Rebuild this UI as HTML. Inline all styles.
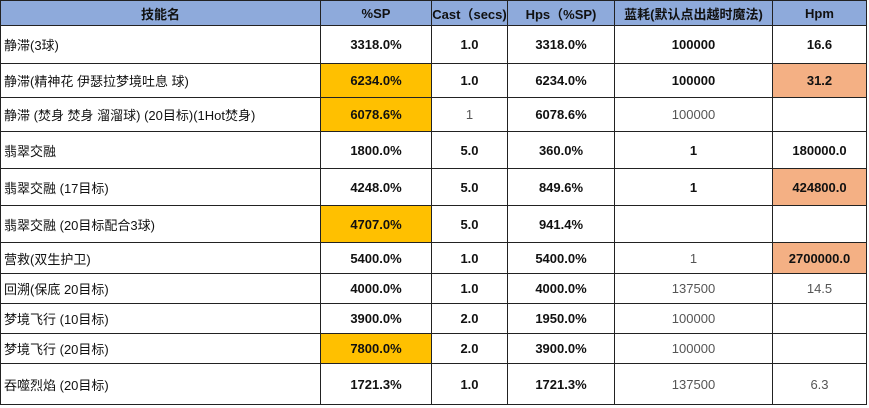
<!DOCTYPE html>
<html><head><meta charset="utf-8"><style>
html,body{margin:0;padding:0;background:#fff;width:869px;height:408px;overflow:hidden}
table{border-collapse:collapse;table-layout:fixed;position:absolute;left:0;top:0;font-family:"Liberation Sans","Noto Sans CJK SC",sans-serif;font-size:13px;color:#111}
td,th{border:1px solid #222;padding:0;text-align:center;font-weight:bold;white-space:nowrap;overflow:hidden}
th{background:#8eaadb;height:24px;font-size:13px}
td.n{text-align:left;font-weight:normal;padding-left:3px}
td.o{background:#ffc000}
td.s{background:#f4b084}
td.l{font-weight:normal;color:#555}
</style></head><body>
<table>
<colgroup><col style="width:320px"><col style="width:111px"><col style="width:76px"><col style="width:107px"><col style="width:158px"><col style="width:94px"></colgroup>
<tr><th>技能名</th><th>%SP</th><th>Cast（secs)</th><th>Hps（%SP)</th><th>蓝耗(默认点出越时魔法)</th><th>Hpm</th></tr>
<tr style="height:38px"><td class="n">静滞(3球)</td><td>3318.0%</td><td>1.0</td><td>3318.0%</td><td>100000</td><td>16.6</td></tr>
<tr style="height:34px"><td class="n">静滞(精神花 伊瑟拉梦境吐息 球)</td><td class="o">6234.0%</td><td>1.0</td><td>6234.0%</td><td>100000</td><td class="s">31.2</td></tr>
<tr style="height:34px"><td class="n">静滞 (焚身 焚身 溜溜球) (20目标)(1Hot焚身)</td><td class="o">6078.6%</td><td class="l">1</td><td>6078.6%</td><td class="l">100000</td><td></td></tr>
<tr style="height:37px"><td class="n">翡翠交融</td><td>1800.0%</td><td>5.0</td><td>360.0%</td><td>1</td><td>180000.0</td></tr>
<tr style="height:37px"><td class="n">翡翠交融 (17目标)</td><td>4248.0%</td><td>5.0</td><td>849.6%</td><td>1</td><td class="s">424800.0</td></tr>
<tr style="height:37px"><td class="n">翡翠交融 (20目标配合3球)</td><td class="o">4707.0%</td><td>5.0</td><td>941.4%</td><td></td><td></td></tr>
<tr style="height:31px"><td class="n">营救(双生护卫)</td><td>5400.0%</td><td>1.0</td><td>5400.0%</td><td class="l">1</td><td class="s">2700000.0</td></tr>
<tr style="height:30px"><td class="n">回溯(保底 20目标)</td><td>4000.0%</td><td>1.0</td><td>4000.0%</td><td class="l">137500</td><td class="l">14.5</td></tr>
<tr style="height:30px"><td class="n">梦境飞行 (10目标)</td><td>3900.0%</td><td>2.0</td><td>1950.0%</td><td class="l">100000</td><td></td></tr>
<tr style="height:30px"><td class="n">梦境飞行 (20目标)</td><td class="o">7800.0%</td><td>2.0</td><td>3900.0%</td><td class="l">100000</td><td></td></tr>
<tr style="height:41px"><td class="n">吞噬烈焰 (20目标)</td><td>1721.3%</td><td>1.0</td><td>1721.3%</td><td class="l">137500</td><td class="l">6.3</td></tr>
</table>
</body></html>
